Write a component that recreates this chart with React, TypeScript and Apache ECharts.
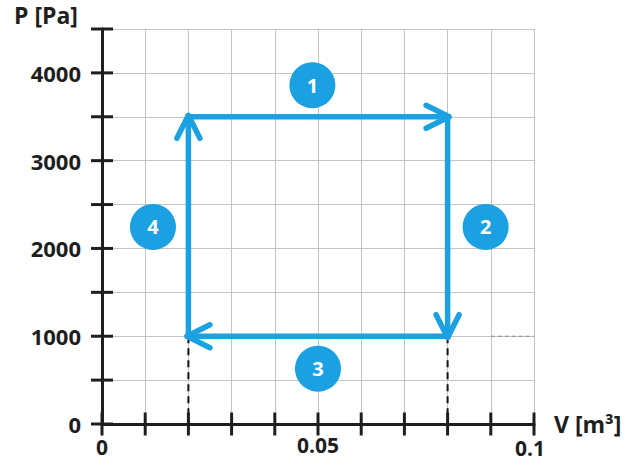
import React, { useEffect, useRef } from "react";
import * as echarts from "echarts";

// Cycle vertices (V in m³, P in Pa), traversed 1 → 2 → 3 → 4
const cycleV = [0.02, 0.08, 0.08, 0.02];
const cycleP = [3500, 3500, 1000, 1000];

// Step markers
const stepLabels = ["1", "2", "3", "4"];
const stepV = [0.0487, 0.0888, 0.05, 0.0118];
const stepP = [3860, 2245, 630, 2245];

// Axis ticks and labels
const xTicks = [0, 0.01, 0.02, 0.03, 0.04, 0.05, 0.06, 0.07, 0.08, 0.09, 0.1];
const yTicks = [0, 500, 1000, 1500, 2000, 2500, 3000, 3500, 4000, 4500];
const yLabelValues = [0, 1000, 2000, 3000, 4000];

// Dashed drop lines from the cycle's lower corners to the V axis
const dropV = [0.02, 0.08];
const dropTopP = 1000;
const dropBottomP = 0;

// Faint dashed segment on the 1000 Pa line near the right edge
const faintV = [0.09, 0.1];
const faintP = 1000;

const BLUE = "#1BA1E2";
const INK = "#1e1e1e";
const FONT = "'Open Sans', 'Noto Sans', sans-serif";
const W = 637;
const H = 465;

const near = (a: number, b: number) => Math.abs(a - b) < 1e-9;

export default function App() {
  const ref = useRef<HTMLDivElement>(null);

  useEffect(() => {
    if (!ref.current) return;
    const chart = echarts.init(ref.current, null, { renderer: "svg", width: W, height: H });

    const segments = cycleV.map((v, i) => {
      const j = (i + 1) % cycleV.length;
      return [v, cycleP[i], cycleV[j], cycleP[j]];
    });

    const labelText = { fontFamily: FONT, fontSize: 22, fontWeight: "bold", color: INK };
    const xLabelText = { fontFamily: FONT, fontSize: 21, fontWeight: "bold", color: INK };

    const option: any = {
      animation: false,
      backgroundColor: "#ffffff",
      grid: { left: 102, right: 103, top: 29, bottom: 41, containLabel: false },
      xAxis: {
        type: "value",
        min: 0,
        max: 0.1,
        interval: 0.01,
        axisLine: { show: true, onZero: false, lineStyle: { color: INK, width: 3 } },
        axisTick: { show: false },
        splitLine: { show: true, lineStyle: { color: "#c4c4c4", width: 1 } },
        axisLabel: {
          margin: 10,
          ...xLabelText,
          showMinLabel: true,
          showMaxLabel: true,
          formatter: (v: number) => {
            if (near(v, 0)) return "{z|0}";
            if (near(v, 0.05)) return "0.05";
            if (near(v, 0.1)) return "{e|0.1}";
            return "";
          },
          rich: {
            z: { padding: [2, 0, 0, 0], ...xLabelText },
            e: { padding: [3, 8, 0, 0], ...xLabelText },
          },
        },
      },
      yAxis: {
        type: "value",
        min: 0,
        max: 4500,
        interval: 500,
        axisLine: { show: true, onZero: false, lineStyle: { color: INK, width: 3 } },
        axisTick: { show: false },
        splitLine: { show: true, lineStyle: { color: "#c4c4c4", width: 1 } },
        axisLabel: {
          margin: 21,
          ...labelText,
          formatter: (v: number) => (yLabelValues.some((y) => near(y, v)) ? String(v) : ""),
        },
      },
      graphic: [
        {
          type: "text",
          left: 14,
          top: 3,
          style: { text: "P [Pa]", fill: INK, font: `bold 23px ${FONT}` },
        },
        {
          type: "text",
          left: 554,
          top: 412,
          style: { text: "V [m³]", fill: INK, font: `bold 23px ${FONT}` },
        },
      ],
      series: [
        // dashed drop lines
        ...dropV.map((v) => ({
          type: "line",
          data: [
            [v, dropTopP],
            [v, dropBottomP],
          ],
          symbol: "none",
          silent: true,
          z: 3,
          lineStyle: { color: "#111", width: 2, type: [7, 5] },
        })),
        {
          type: "line",
          data: faintV.map((v) => [v, faintP]),
          symbol: "none",
          silent: true,
          z: 2,
          lineStyle: { color: "#8a8a8a", width: 1, type: [4, 3] },
        },
        // cycle with open arrow heads
        {
          type: "custom",
          data: segments,
          encode: { x: [0, 2], y: [1, 3] },
          z: 5,
          silent: true,
          clip: false,
          renderItem: (params: any, api: any) => {
            const p1 = api.coord([api.value(0), api.value(1)]);
            const p2 = api.coord([api.value(2), api.value(3)]);
            const dx = p2[0] - p1[0];
            const dy = p2[1] - p1[1];
            const len = Math.hypot(dx, dy) || 1;
            const ux = dx / len;
            const uy = dy / len;
            const tip = [p2[0] + ux * 1.5, p2[1] + uy * 1.5];
            const back = 23;
            const side = 11.5;
            const a1 = [tip[0] - ux * back - uy * side, tip[1] - uy * back + ux * side];
            const a2 = [tip[0] - ux * back + uy * side, tip[1] - uy * back - ux * side];
            return {
              type: "group",
              children: [
                {
                  type: "line",
                  shape: { x1: p1[0], y1: p1[1], x2: p2[0], y2: p2[1] },
                  style: { stroke: BLUE, lineWidth: 5.5, lineCap: "square" },
                },
                {
                  type: "polyline",
                  shape: { points: [a1, tip, a2] },
                  style: { stroke: BLUE, fill: null, lineWidth: 5.5, lineCap: "round", lineJoin: "round" },
                },
              ],
            };
          },
        },
        // numbered step markers
        {
          type: "scatter",
          data: stepLabels.map((name, i) => ({ name, value: [stepV[i], stepP[i]] })),
          symbol: "circle",
          symbolSize: 46,
          silent: true,
          z: 6,
          itemStyle: { color: BLUE, opacity: 1 },
          label: {
            show: true,
            position: "inside",
            formatter: (p: any) => p.name,
            color: "#ffffff",
            fontFamily: FONT,
            fontSize: 20,
            fontWeight: "bold",
          },
        },
        // crossing ticks on the P axis
        {
          type: "scatter",
          data: yTicks.map((p) => [0, p]),
          symbol: "rect",
          symbolSize: [22, 3],
          clip: false,
          silent: true,
          z: 7,
          itemStyle: { color: INK, opacity: 1 },
        },
        // crossing ticks on the V axis
        {
          type: "scatter",
          data: xTicks.map((v) => [v, 0]),
          symbol: "rect",
          symbolSize: [3, 23],
          clip: false,
          silent: true,
          z: 7,
          itemStyle: { color: INK, opacity: 1 },
        },
      ],
    };

    chart.setOption(option);
    return () => chart.dispose();
  }, []);

  return (
    <div
      ref={ref}
      style={{ position: "fixed", left: 0, top: 0, width: W, height: H, background: "#fff" }}
    />
  );
}
